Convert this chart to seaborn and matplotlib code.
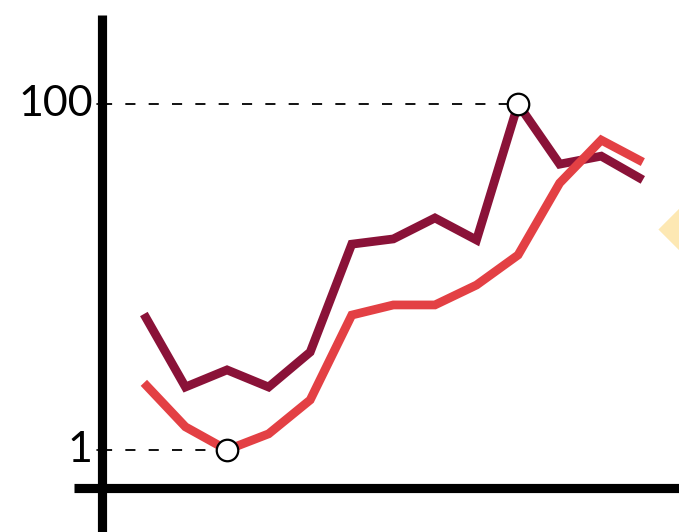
import matplotlib
matplotlib.use("Agg")
import matplotlib.pyplot as plt
import seaborn as sns
import pandas as pd
import numpy as np

# Data
periods = list(range(13))
series_dark = [39.9, 19.0, 23.9, 19.0, 29.0, 59.9, 61.4, 67.4, 61.1, 100.0, 82.8, 85.1, 78.3]
series_red = [20.2, 7.6, 1.0, 5.6, 15.3, 39.6, 42.5, 42.5, 48.2, 56.8, 77.4, 89.7, 83.4]
y_ticks = [1, 100]
y_tick_labels = ["1", "100"]

dark_color = "#8a1238"
red_color = "#e34044"

df = pd.DataFrame({
    "period": periods * 2,
    "value": series_dark + series_red,
    "series": ["dark"] * len(periods) + ["red"] * len(periods),
})

sns.set_style("white")
plt.rcParams["font.family"] = ["Lato", "DejaVu Sans"]

fig = plt.figure(figsize=(6.79, 5.32), dpi=100)
ax = fig.add_axes([0, 0, 1, 1])

sns.lineplot(
    data=df,
    x="period",
    y="value",
    hue="series",
    palette={"dark": dark_color, "red": red_color},
    linewidth=6.3,
    legend=False,
    ax=ax,
)
for line in ax.lines:
    line.set_solid_joinstyle("miter")
    line.set_solid_capstyle("butt")
ax.set_xlabel("")
ax.set_ylabel("")

# view limits so the plot area matches the reference
ax.set_xlim(-3.46, 12.87)
ax.set_ylim(-22.5, 129.8)

# axis lines crossing each other
x_axis_pos = -1.01
y_axis_pos = -10.0
for s in ["top", "right", "bottom", "left"]:
    ax.spines[s].set_visible(False)
ax.plot([x_axis_pos, x_axis_pos], [-30, 125.6], color="black", lw=6.6,
        solid_capstyle="butt", clip_on=False)
ax.plot([-1.68, 14], [y_axis_pos, y_axis_pos], color="black", lw=6.6,
        solid_capstyle="butt", clip_on=False)

# min / max markers with dashed guides
i_min = int(np.argmin(series_red))
i_max = int(np.argmax(series_dark))
ax.plot([x_axis_pos, periods[i_min]], [series_red[i_min]] * 2, color="#111111",
        lw=1.4, dashes=(5.2, 6.8), zorder=1)
ax.plot([x_axis_pos, periods[i_max]], [series_dark[i_max]] * 2, color="#111111",
        lw=1.4, dashes=(5.2, 6.8), zorder=1)
ax.scatter([periods[i_min], periods[i_max]], [series_red[i_min], series_dark[i_max]],
           s=240, facecolor="white", edgecolor="black", linewidth=1.6, zorder=5)

# tick labels
ax.set_xticks([])
ax.set_yticks([])
for t, lab in zip(y_ticks, y_tick_labels):
    ax.plot([x_axis_pos - 0.12, x_axis_pos], [t, t], color="black", lw=1.2)
    ax.text(x_axis_pos - 0.22, t, lab, ha="right", va="center", fontsize=31,
            color="black")

# pale diamond partly off the right edge
ax.scatter([1.043], [0.57], marker="D", s=2600, color="#fde6ab", alpha=0.9,
           transform=ax.transAxes, clip_on=True, linewidth=0)

fig.savefig("out.png", dpi=100)
